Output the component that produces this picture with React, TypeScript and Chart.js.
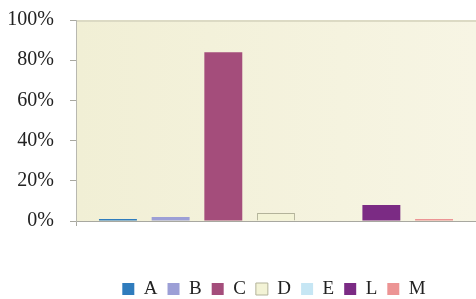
import React, { useEffect, useRef } from "react";
import { Chart, registerables } from "chart.js";

Chart.register(...registerables);

const categories = [""];
const seriesNames = ["A", "B", "C", "D", "E", "L", "M"];
const seriesValues = [1, 2, 84, 4, 0, 8, 1];
const seriesColors = ["#2f7cbd", "#9c9fd6", "#a44d7b", "#f3f3d6", "#c6e6f4", "#7b2b84", "#ec9494"];
const seriesBorders = ["#2f7cbd", "#9c9fd6", "#a44d7b", "#b3b39a", "#c6e6f4", "#7b2b84", "#ec9494"];
const yTicks = [0, 20, 40, 60, 80, 100];

const bgPlugin = {
  id: "bgPlugin",
  afterLayout(chart: any) {
    const lg = chart.legend;
    const ca = chart.chartArea;
    if (!lg || !ca) return;
    const dx = (ca.left + ca.right) / 2 - (lg.left + lg.right) / 2 - 2;
    const dy = 289 - (lg.top + lg.bottom) / 2;
    lg.left += dx;
    lg.right += dx;
    lg.top += dy;
    lg.bottom += dy;
  },
  beforeDraw(chart: any) {
    const { ctx, chartArea } = chart;
    if (!chartArea) return;
    const g = ctx.createLinearGradient(chartArea.left, 0, chartArea.right, 0);
    g.addColorStop(0, "#f1efd5");
    g.addColorStop(1, "#f7f5e4");
    ctx.save();
    ctx.fillStyle = g;
    ctx.fillRect(chartArea.left, chartArea.top, chartArea.right - chartArea.left, chartArea.bottom - chartArea.top);
    ctx.strokeStyle = "#dcdac4";
    ctx.lineWidth = 2;
    ctx.beginPath();
    ctx.moveTo(chartArea.left, chartArea.top + 1);
    ctx.lineTo(chartArea.right, chartArea.top + 1);
    ctx.stroke();
    ctx.restore();
  },
};

export default function App() {
  const ref = useRef<HTMLCanvasElement>(null);
  useEffect(() => {
    if (!ref.current) return;
    const chart = new Chart(ref.current, {
      type: "bar",
      data: {
        labels: categories,
        datasets: seriesNames.map((n, i) => ({
          label: n,
          data: [seriesValues[i]],
          backgroundColor: seriesColors[i],
          borderColor: seriesBorders[i],
          borderWidth: i === 3 ? 1 : 0,
          barPercentage: 0.72,
          categoryPercentage: 0.922,
        })),
      },
      options: {
        animation: false,
        responsive: false,
        maintainAspectRatio: false,
        layout: { padding: { left: 0, right: 0, top: 20, bottom: 0 } },
        scales: {
          x: {
            grid: { display: true, drawOnChartArea: false, offset: true, tickLength: 5, color: "#a8a8a0" },
            border: { display: true, color: "#a8a8a0", width: 1 },
            ticks: { display: false },
            afterFit(scale: any) {
              scale.height = 39;
              scale.paddingLeft = 0;
              scale.paddingRight = 0;
            },
          },
          y: {
            min: 0,
            max: 100,
            afterBuildTicks(scale: any) {
              scale.ticks = yTicks.map((v) => ({ value: v }));
            },
            grid: { display: true, drawOnChartArea: false, tickLength: 6, color: "#a8a8a0" },
            border: { display: true, color: "#b8b8b0", width: 1 },
            ticks: {
              padding: 16,
              color: "#222",
              font: { family: "'Liberation Serif', 'Times New Roman', serif", size: 20 },
              callback: (v: any) => v + "%",
            },
            afterFit(scale: any) {
              scale.width = 76;
              scale.paddingTop = 0;
              scale.paddingBottom = 0;
            },
          },
        },
        plugins: {
          legend: {
            position: "bottom",
            labels: {
              boxWidth: 12,
              boxHeight: 12,
              padding: 10,
              color: "#222",
              font: { family: "'Liberation Serif', 'Times New Roman', serif", size: 19 },
            },
          },
          tooltip: { enabled: false },
        },
      },
      plugins: [bgPlugin],
    });
    return () => chart.destroy();
  }, []);
  return (
    <div style={{ position: "absolute", left: 0, top: 0, width: 476, height: 299, background: "#fff" }}>
      <canvas ref={ref} width={476} height={299} />
    </div>
  );
}
